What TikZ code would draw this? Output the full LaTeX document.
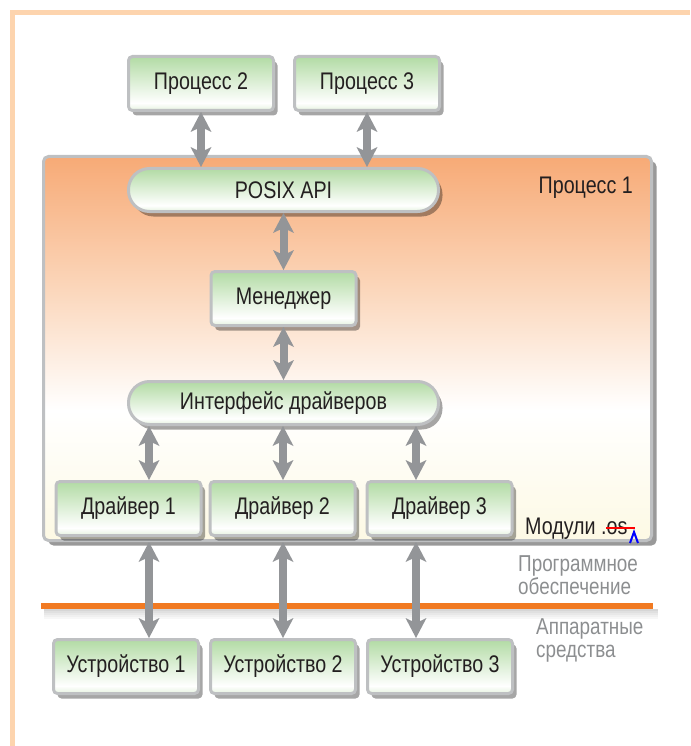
\documentclass[tikz,border=0pt]{standalone}
\usepackage{fontspec}
\setmainfont[FakeStretch=0.82]{Liberation Sans}
\usetikzlibrary{arrows.meta,calc,positioning,shadows}

\definecolor{my_text}{RGB}{35,31,32}
\definecolor{my_gray}{RGB}{140,142,144}
\definecolor{my_arrow}{RGB}{147,149,152}
\definecolor{my_border}{RGB}{190,192,194}
\definecolor{my_frame}{RGB}{253,212,174}
\definecolor{my_orange}{RGB}{241,122,34}
\definecolor{my_green}{RGB}{178,219,164}
\definecolor{my_greenlow}{RGB}{228,242,222}
\definecolor{my_peach}{RGB}{247,170,118}
\definecolor{my_peachmid}{RGB}{251,214,186}
\definecolor{my_cream}{RGB}{253,249,228}

\pgfdeclareverticalshading{green_sh}{100bp}{color(0bp)=(my_greenlow); color(25bp)=(my_greenlow);
  color(32bp)=(white); color(75bp)=(my_green); color(100bp)=(my_green)}
\pgfdeclareverticalshading{peach_sh}{100bp}{color(0bp)=(my_cream); color(25bp)=(my_cream);
  color(42bp)=(white); color(58bp)=(my_peachmid); color(75bp)=(my_peach); color(100bp)=(my_peach)}

\tikzset{
  box_n/.style = {rectangle, draw=my_border, line width=3pt, rounded corners=4pt, shading=green_sh,
  text=my_text, font=\fontsize{24}{26}\selectfont, minimum width=145pt, minimum height=54pt, inner sep=0pt,
  drop shadow={shadow xshift=4pt, shadow yshift=-5pt, opacity=.35, fill=black}},
  box_p/.style = {box_n, rounded corners=21pt, minimum width=310pt, minimum height=43pt},
  dbl_arr/.style = {draw=my_arrow, line width=8pt,
  {Stealth[length=20pt,width=21pt,inset=5pt,line width=0pt]}-{Stealth[length=20pt,width=21pt,inset=5pt,line width=0pt]}},
  note_g/.style = {text=my_gray, font=\fontsize{23}{23.5}\selectfont, align=left, inner sep=0pt}
}

\begin{document}
\begin{tikzpicture}[x=1pt, y=-1pt,
        proc_box/.style={rectangle, draw=my_border, line width=3pt, rounded corners=5pt, shading=peach_sh,
        minimum width=608pt, minimum height=384pt,
        drop shadow={shadow xshift=5pt, shadow yshift=-5pt, opacity=.4, fill=black}},
        lbl/.style={inner sep=0pt, text=my_text, font=\fontsize{24}{26}\selectfont}]
    \useasboundingbox (0,0) rectangle (690,746);
    \draw [my_frame, line width=5pt] (12.5,746) -- (12.5,12.5) -- (690,12.5);
    \node (proc1) [proc_box] at (347.5,348.5) {};
    \node (proc1_lbl) [lbl, anchor=east] at (633,188) {Процесс 1};
    \node (pr2) [box_n] at (201,83.5) {Процесс 2};
    \node (pr3) [box_n, right=18pt of pr2] {Процесс 3};
    \node (posix) [box_p] at (283.5,190) {POSIX API};
    \node (mgr) [box_n, below=57pt of posix] {Менеджер};
    \node (ifc) [box_p, below=53pt of mgr] {Интерфейс драйверов};
    \node (drv2) [box_n] at (282.5,508.5) {Драйвер 2};
    \node (drv1) [box_n, left=6pt of drv2] {Драйвер 1};
    \node (drv3) [box_n, right=9pt of drv2] {Драйвер 3};
    \node (dev2) [box_n] at (283,666.5) {Устройство 2};
    \node (dev1) [box_n, left=9pt of dev2] {Устройство 1};
    \node (dev3) [box_n, right=9pt of dev2] {Устройство 3};
    \node (mod_lbl) [lbl, anchor=base west] at (525,534) {Модули .os};
    \draw [red, line width=2pt] (606,528) -- (635,528);
    \draw [blue, line width=2pt] (630,543) -- (634,532) -- (638,543);
    % software / hardware border
    \foreach \dy/\op in {610/.16,612/.12,614/.09,616/.06,618/.03}
        \draw [black, opacity=\op, line width=2pt] (44,\dy) -- (658,\dy);
    \draw [my_orange, line width=6pt] (41,606) -- (653,606);
    \node (sw_lbl) [note_g, anchor=north west] at (518,555) {Программное\\обеспечение};
    \node (hw_lbl) [note_g, anchor=north west] at (536,618) {Аппаратные\\средства};
    \coordinate (col1) at (149,0);
    \coordinate (col2) at (283,0);
    \coordinate (col3) at (416,0);
    \draw [dbl_arr] (pr2.south) -- (pr2.south |- posix.north);
    \draw [dbl_arr] (pr3.south) -- (pr3.south |- posix.north);
    \draw [dbl_arr] (posix.south) -- (mgr.north);
    \draw [dbl_arr] (mgr.south) -- (ifc.north);
    \foreach \i in {1,2,3} {
        \draw [dbl_arr] (ifc.south -| col\i) -- (drv\i.north -| col\i);
        \draw [dbl_arr] (proc1.south -| col\i) -- (dev\i.north -| col\i);
    }
\end{tikzpicture}
\end{document}
